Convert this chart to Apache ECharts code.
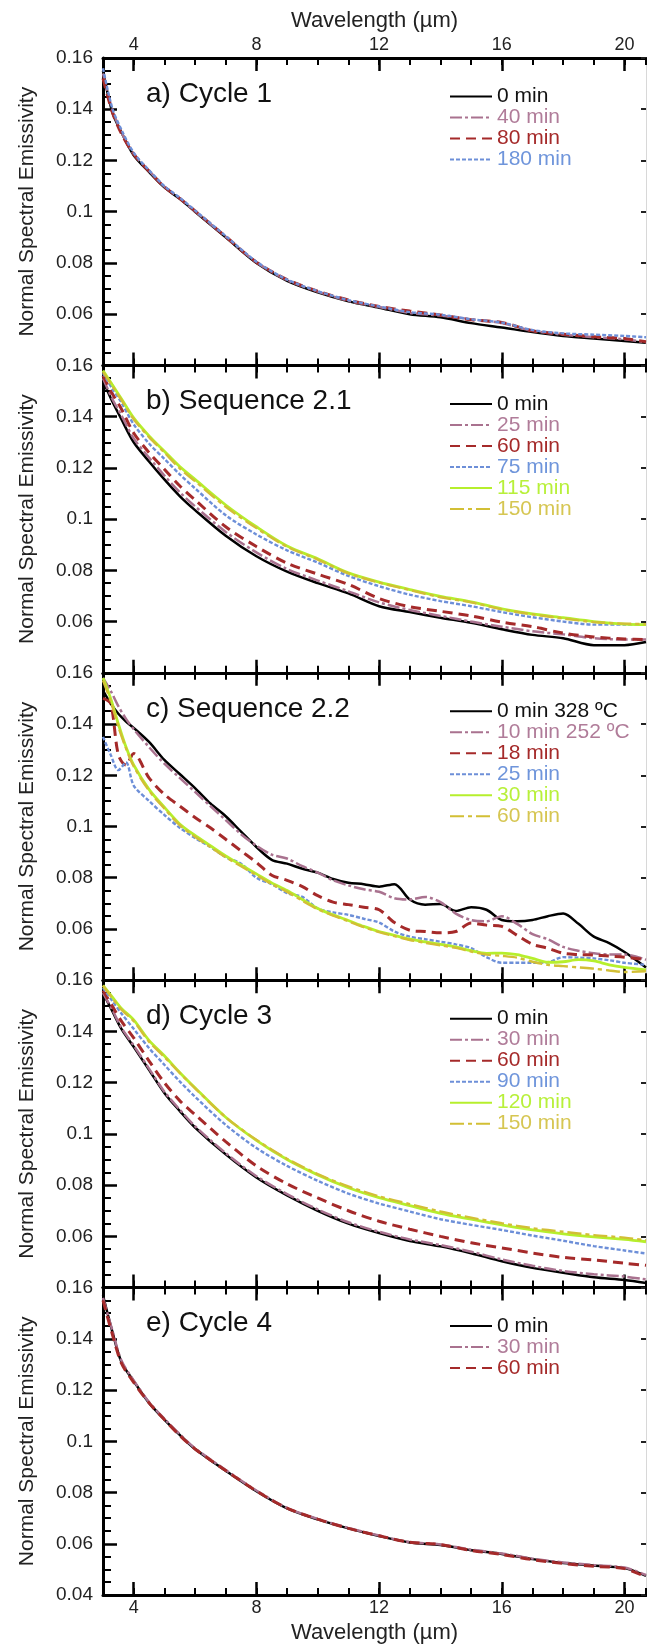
<!DOCTYPE html>
<html>
<head>
<meta charset="utf-8">
<script src="https://cdn.jsdelivr.net/npm/echarts@6/dist/echarts.min.js"></script>
<style>
html, body { margin: 0; padding: 0; background: #fff; }
#chart { width: 647px; height: 1647px; }
</style>
</head>
<body>
<div id="chart"></div>
<script>
// wavelength grid (µm) used by panels a, b, d, e
const wl = [3.0, 3.3, 3.6, 4.0, 4.5, 5.0, 5.5, 6.0, 7, 8, 9, 10, 11, 12, 13, 14, 15, 16, 17, 18, 19, 20, 20.7];
// finer grid for panel c (more structure there)
const wlC = [3.0, 3.25, 3.5, 3.75, 4.0, 4.5, 5.0, 5.5, 6.0, 6.5, 7.0, 7.5, 8.0, 8.5, 9.0, 9.5, 10, 10.5, 11, 11.5,
  12, 12.5, 13, 13.5, 14, 14.5, 15, 15.5, 16, 16.5, 17, 17.5, 18, 18.5, 19, 19.5, 20, 20.7];

const xMajor = [4, 8, 12, 16, 20];

// a) Cycle 1
const a0   = [0.155, 0.139, 0.131, 0.122, 0.1155, 0.1095, 0.105, 0.100, 0.090, 0.080, 0.073, 0.0685, 0.065, 0.0625, 0.060, 0.0588, 0.0565, 0.0548, 0.053, 0.0515, 0.0505, 0.0495, 0.0488];
const a40  = [0.154, 0.140, 0.131, 0.1225, 0.116, 0.1098, 0.1052, 0.1002, 0.0902, 0.0803, 0.0733, 0.0688, 0.0652, 0.0628, 0.0605, 0.0595, 0.058, 0.0565, 0.0535, 0.052, 0.051, 0.0502, 0.049];
const a80  = [0.152, 0.139, 0.1305, 0.1225, 0.1158, 0.1097, 0.1052, 0.1003, 0.0903, 0.0803, 0.0735, 0.069, 0.0655, 0.063, 0.0612, 0.0597, 0.0578, 0.0568, 0.0535, 0.0522, 0.0512, 0.0505, 0.0492];
const a180 = [0.156, 0.1405, 0.132, 0.123, 0.1162, 0.110, 0.1055, 0.1005, 0.0905, 0.0805, 0.0735, 0.069, 0.0655, 0.063, 0.0608, 0.0598, 0.058, 0.0567, 0.0538, 0.0525, 0.052, 0.0515, 0.051];

// b) Sequence 2.1
const b0   = [0.154, 0.146, 0.139, 0.130, 0.1225, 0.1155, 0.109, 0.1035, 0.0935, 0.0855, 0.0795, 0.075, 0.071, 0.066, 0.0637, 0.0615, 0.0595, 0.057, 0.0548, 0.0535, 0.0508, 0.0508, 0.052];
const b25  = [0.155, 0.147, 0.1405, 0.1315, 0.124, 0.117, 0.1105, 0.105, 0.095, 0.087, 0.0805, 0.076, 0.0718, 0.0675, 0.0645, 0.0622, 0.060, 0.058, 0.0562, 0.055, 0.0535, 0.053, 0.053];
const b60  = [0.156, 0.149, 0.143, 0.1336, 0.126, 0.1195, 0.113, 0.1075, 0.097, 0.0893, 0.0828, 0.0785, 0.0745, 0.069, 0.0658, 0.064, 0.0622, 0.0598, 0.058, 0.0555, 0.054, 0.0532, 0.053];
const b75  = [0.157, 0.151, 0.1455, 0.137, 0.1295, 0.1235, 0.1175, 0.112, 0.1015, 0.094, 0.0878, 0.083, 0.0778, 0.0738, 0.0705, 0.068, 0.066, 0.0637, 0.0617, 0.060, 0.0588, 0.0588, 0.0588];
const b115 = [0.158, 0.1525, 0.147, 0.1395, 0.1325, 0.1265, 0.1205, 0.1155, 0.1055, 0.097, 0.0895, 0.0845, 0.079, 0.0754, 0.0725, 0.0698, 0.0677, 0.065, 0.063, 0.0615, 0.060, 0.059, 0.0588];
const b150 = [0.1575, 0.152, 0.1465, 0.139, 0.132, 0.126, 0.1198, 0.1148, 0.1048, 0.0965, 0.0892, 0.0842, 0.0788, 0.0752, 0.0723, 0.0695, 0.0675, 0.0648, 0.0628, 0.0612, 0.0598, 0.0592, 0.059];

// c) Sequence 2.2
const c0  = [0.153, 0.148, 0.144, 0.141, 0.1385, 0.133, 0.126, 0.1205, 0.115, 0.109, 0.104, 0.098, 0.092, 0.087, 0.0855, 0.0835, 0.082, 0.0795, 0.078, 0.0775,
  0.0765, 0.0775, 0.0715, 0.0695, 0.0697, 0.067, 0.0685, 0.0675, 0.0635, 0.063, 0.0635, 0.065, 0.066, 0.062, 0.057, 0.0545, 0.051, 0.045];
const c10 = [0.158, 0.153, 0.147, 0.142, 0.138, 0.131, 0.1245, 0.119, 0.1135, 0.108, 0.1025, 0.097, 0.0925, 0.089, 0.0875, 0.0845, 0.082, 0.079, 0.077, 0.0755,
  0.0745, 0.072, 0.0715, 0.0725, 0.0705, 0.066, 0.0635, 0.063, 0.065, 0.062, 0.058, 0.056, 0.053, 0.0515, 0.0505, 0.050, 0.050, 0.048];
const c18 = [0.150, 0.148, 0.128, 0.124, 0.1285, 0.119, 0.1125, 0.108, 0.1035, 0.0995, 0.095, 0.0905, 0.086, 0.081, 0.079, 0.0765, 0.073, 0.0705, 0.0695, 0.0685,
  0.0675, 0.0625, 0.0595, 0.059, 0.0585, 0.059, 0.0623, 0.0615, 0.061, 0.0575, 0.054, 0.0525, 0.0505, 0.050, 0.0498, 0.0494, 0.049, 0.048];
const c25 = [0.135, 0.128, 0.122, 0.125, 0.116, 0.110, 0.1045, 0.0995, 0.0955, 0.092, 0.088, 0.0855, 0.080, 0.0775, 0.074, 0.0725, 0.068, 0.0665, 0.0655, 0.064,
  0.0625, 0.059, 0.057, 0.056, 0.055, 0.054, 0.0525, 0.049, 0.0468, 0.0468, 0.0468, 0.047, 0.049, 0.0488, 0.0485, 0.0478, 0.0468, 0.046];
const c30 = [0.158, 0.150, 0.140, 0.131, 0.124, 0.1145, 0.1075, 0.101, 0.0965, 0.0925, 0.0885, 0.085, 0.0815, 0.078, 0.075, 0.0715, 0.068, 0.0655, 0.0633, 0.061,
  0.059, 0.0575, 0.056, 0.055, 0.054, 0.053, 0.0515, 0.0505, 0.0506, 0.050, 0.0485, 0.047, 0.0472, 0.048, 0.0475, 0.046, 0.045, 0.044];
const c60 = [0.157, 0.149, 0.139, 0.1305, 0.1235, 0.114, 0.107, 0.1005, 0.096, 0.092, 0.088, 0.0845, 0.081, 0.0775, 0.0745, 0.071, 0.0677, 0.0652, 0.063, 0.0607,
  0.0588, 0.0572, 0.0557, 0.0546, 0.0536, 0.0526, 0.0512, 0.050, 0.0495, 0.0488, 0.0472, 0.046, 0.0455, 0.045, 0.0445, 0.0438, 0.0432, 0.0435];

// d) Cycle 3
const d0   = [0.155, 0.148, 0.141, 0.134, 0.125, 0.116, 0.109, 0.1025, 0.092, 0.083, 0.076, 0.070, 0.065, 0.0613, 0.0582, 0.0561, 0.0534, 0.0503, 0.0477, 0.0458, 0.044, 0.043, 0.0418];
const d30  = [0.155, 0.1485, 0.1415, 0.1345, 0.1255, 0.1165, 0.1095, 0.103, 0.0925, 0.0835, 0.0765, 0.0705, 0.0655, 0.0618, 0.0588, 0.0566, 0.054, 0.051, 0.0485, 0.0465, 0.0452, 0.0443, 0.0432];
const d60  = [0.156, 0.150, 0.144, 0.1375, 0.1285, 0.120, 0.113, 0.1075, 0.097, 0.0875, 0.0805, 0.075, 0.070, 0.0659, 0.0628, 0.060, 0.0575, 0.0555, 0.0535, 0.0518, 0.0508, 0.0495, 0.0487];
const d90  = [0.157, 0.152, 0.147, 0.141, 0.1335, 0.127, 0.1205, 0.1145, 0.1035, 0.0945, 0.0875, 0.0817, 0.0767, 0.0728, 0.0697, 0.0667, 0.0645, 0.0625, 0.0603, 0.0583, 0.0562, 0.0545, 0.0533];
const d120 = [0.158, 0.1535, 0.149, 0.1445, 0.1365, 0.1305, 0.124, 0.118, 0.1065, 0.0975, 0.090, 0.084, 0.079, 0.0751, 0.072, 0.069, 0.0667, 0.0645, 0.0625, 0.061, 0.0598, 0.0588, 0.0579];
const d150 = [0.1578, 0.153, 0.1485, 0.144, 0.136, 0.130, 0.1238, 0.1178, 0.1065, 0.0977, 0.0903, 0.0843, 0.0795, 0.0756, 0.0726, 0.0697, 0.0673, 0.0651, 0.0632, 0.0618, 0.0605, 0.0595, 0.0585];

// e) Cycle 4
const e0  = [0.157, 0.143, 0.131, 0.1235, 0.115, 0.1085, 0.1025, 0.097, 0.0885, 0.0805, 0.0738, 0.0695, 0.066, 0.063, 0.0605, 0.0595, 0.0575, 0.056, 0.054, 0.0525, 0.0515, 0.0505, 0.0475];
const e30 = [0.156, 0.1435, 0.1315, 0.1238, 0.1153, 0.1088, 0.1028, 0.0973, 0.0888, 0.0808, 0.074, 0.0697, 0.0662, 0.0632, 0.0607, 0.0597, 0.0577, 0.0562, 0.0542, 0.0527, 0.0517, 0.0507, 0.0478];
const e60 = [0.155, 0.142, 0.1305, 0.123, 0.115, 0.1085, 0.1023, 0.097, 0.0886, 0.0806, 0.0739, 0.0696, 0.066, 0.0631, 0.0606, 0.0597, 0.0574, 0.0558, 0.0538, 0.0523, 0.0512, 0.0503, 0.047];

const FONT = "'Liberation Sans', Arial, sans-serif";
const TOP0 = 58, PANEL_H = 307.4, LEFT = 103, WIDTH = 543;

const styles = {
  black: { color: '#000000', text: '#111111', width: 2.5, type: 'solid' },
  mauve: { color: '#a9728f', text: '#b07c99', width: 2.5, type: [12, 3, 3, 3] },
  red:   { color: '#a52a2a', text: '#a52a2a', width: 3, type: [10, 6] },
  blue:  { color: '#6d8fd8', text: '#6f95db', width: 2.4, type: [4, 2] },
  green: { color: '#b6ef2c', text: '#b8f03a', width: 2.8, type: 'solid' },
  gold:  { color: '#d2bf35', text: '#d6c652', width: 2.4, type: [14, 4, 4, 4] }
};

const panels = [
  { title: 'a) Cycle 1', wl: wl, lines: [['0 min', a0, 'black'], ['40 min', a40, 'mauve'], ['80 min', a80, 'red'], ['180 min', a180, 'blue']] },
  { title: 'b) Sequence 2.1', wl: wl, lines: [['0 min', b0, 'black'], ['25 min', b25, 'mauve'], ['60 min', b60, 'red'],
    ['75 min', b75, 'blue'], ['115 min', b115, 'green'], ['150 min', b150, 'gold']] },
  { title: 'c) Sequence 2.2', wl: wlC, lines: [['0 min 328 ºC', c0, 'black'], ['10 min 252 ºC', c10, 'mauve'], ['18 min', c18, 'red'],
    ['25 min', c25, 'blue'], ['30 min', c30, 'green'], ['60 min', c60, 'gold']] },
  { title: 'd) Cycle 3', wl: wl, lines: [['0 min', d0, 'black'], ['30 min', d30, 'mauve'], ['60 min', d60, 'red'],
    ['90 min', d90, 'blue'], ['120 min', d120, 'green'], ['150 min', d150, 'gold']] },
  { title: 'e) Cycle 4', wl: wl, lines: [['0 min', e0, 'black'], ['30 min', e30, 'mauve'], ['60 min', e60, 'red']] }
];

const grid = [], xAxis = [], yAxis = [], series = [], legend = [], title = [];

panels.forEach((p, i) => {
  const top = TOP0 + i * PANEL_H;
  const first = i === 0, last = i === panels.length - 1;
  grid.push({ left: LEFT, top: top, width: WIDTH, height: PANEL_H });

  ['bottom', 'top'].forEach(pos => {
    const withLabels = (pos === 'top' && first) || (pos === 'bottom' && last);
    // main axis: line, long ticks at 4,8,...
    xAxis.push({
      gridIndex: i, type: 'value', position: pos, min: 3, max: 20.7,
      name: withLabels ? 'Wavelength (µm)' : '',
      nameLocation: 'middle', nameGap: pos === 'top' ? 26 : 27,
      nameTextStyle: { fontSize: 22, color: '#222', fontFamily: FONT },
      axisLine: { onZero: false, lineStyle: { color: '#000', width: 3 } },
      axisTick: { inside: true, customValues: xMajor, length: 13, lineStyle: { color: '#000', width: 2.5 } },
      axisLabel: { show: withLabels, customValues: xMajor, margin: 4, fontSize: 18, color: '#222', fontFamily: FONT },
      splitLine: { show: false }
    });
    // minor ticks every 1 µm
    xAxis.push({
      gridIndex: i, type: 'value', position: pos, min: 3, max: 20.7, interval: 1,
      axisLine: { show: false, onZero: false },
      axisTick: { inside: true, length: 7, lineStyle: { color: '#000', width: 2 } },
      axisLabel: { show: false },
      splitLine: { show: false }
    });
  });

  yAxis.push({
    gridIndex: i, type: 'value', position: 'left', min: 0.04, max: 0.16, interval: 0.02,
    name: 'Normal Spectral Emissivity', nameLocation: 'middle', nameGap: 65, nameRotate: 90,
    nameTextStyle: { fontSize: 21, color: '#222', fontFamily: FONT },
    axisLine: { onZero: false, lineStyle: { color: '#000', width: 3 } },
    axisTick: { inside: true, length: 14, lineStyle: { color: '#000', width: 2.5 } },
    minorTick: { show: true, splitNumber: 4, length: 8, lineStyle: { color: '#000', width: 2 } },
    axisLabel: {
      margin: 10, fontSize: 19, color: '#222', fontFamily: FONT,
      formatter: v => (!last && Math.abs(v - 0.04) < 1e-6) ? '' : String(+v.toFixed(2))
    },
    splitLine: { show: false }
  });
  yAxis.push({
    gridIndex: i, type: 'value', position: 'right', min: 0.04, max: 0.16, interval: 0.02,
    axisLine: { onZero: false, lineStyle: { color: '#d8d8d8', width: 1 } },
    axisTick: { inside: true, length: 5, lineStyle: { color: '#222', width: 2 } },
    axisLabel: { show: false },
    splitLine: { show: false }
  });

  title.push({
    text: p.title, left: 146, top: top + 22, padding: 0,
    textStyle: { fontSize: 28, fontWeight: 'normal', color: '#111', fontFamily: FONT }
  });

  legend.push({
    orient: 'vertical', left: 449, top: top + 28, padding: 0,
    itemWidth: 42, itemHeight: 12, itemGap: 0, selectedMode: false,
    itemStyle: { opacity: 0 },
    formatter: n => n.split('|')[0],
    textStyle: { fontSize: 21, lineHeight: 20, fontFamily: FONT },
    data: p.lines.map(l => ({ name: l[0] + '|' + i, textStyle: { color: styles[l[2]].text } }))
  });

  p.lines.forEach(([label, vals, key]) => {
    const s = styles[key];
    series.push({
      name: label + '|' + i, type: 'line', xAxisIndex: 4 * i, yAxisIndex: 2 * i,
      symbol: 'none', smooth: 0.3, clip: true,
      lineStyle: { color: s.color, width: s.width, type: s.type },
      itemStyle: { color: s.color },
      data: p.wl.map((x, k) => [x, vals[k]])
    });
  });
});

const chart = echarts.init(document.getElementById('chart'));
chart.setOption({
  animation: false,
  backgroundColor: '#fff',
  textStyle: { fontFamily: FONT },
  title, grid, xAxis, yAxis, legend, series
});
</script>
</body>
</html>
